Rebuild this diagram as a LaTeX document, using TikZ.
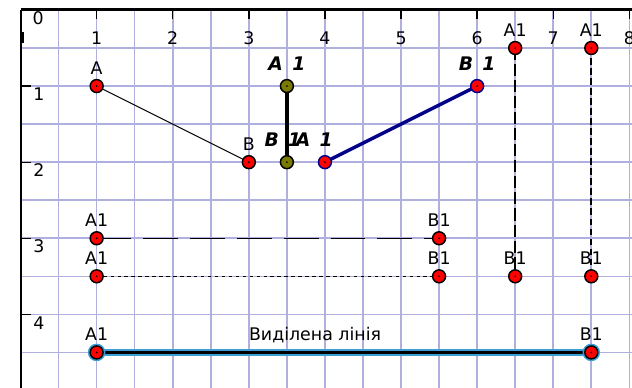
\documentclass[tikz,border=0pt]{standalone}
\usepackage{fontspec}
\setmainfont{DejaVu Sans}
\usetikzlibrary{backgrounds}
\definecolor{gridc}{HTML}{B0B0E0}
\definecolor{ptred}{HTML}{FF0000}
\definecolor{olv}{HTML}{7A7A00}
\definecolor{navy}{HTML}{00008B}
\definecolor{halo}{HTML}{3A9FD4}
\tikzset{
  pt/.style={circle, draw=black, fill=ptred, line width=1.1pt, minimum size=0.34cm, inner sep=0pt,
    path picture={\fill[black] (path picture bounding box.center) circle (0.7pt);}},
  olvpt/.style={pt, fill=olv},
  bluept/.style={pt, draw=navy},
  selpt/.style={pt, preaction={draw=halo, line width=3.4pt}},
  lab/.style={font=\fontsize{13}{15}\selectfont, inner sep=0pt, label distance=3.4pt},
  blab/.style={font=\fontsize{14}{16}\selectfont\bfseries\itshape, inner sep=0pt, label distance=6.4pt},
  num/.style={font=\fontsize{13}{15}\selectfont, inner sep=0pt},
  dashv/.style={line width=1.4pt, dash pattern=on 9pt off 3pt},
  dashw/.style={line width=1.4pt, dash pattern=on 5pt off 2.5pt},
  dashl/.style={line width=1.1pt, dash pattern=on 26pt off 9pt},
  dashs/.style={line width=1.1pt, dash pattern=on 2.6pt off 2.6pt},
  sel/.style={line width=2pt, preaction={draw=halo, line width=5.2pt}}
}

\begin{document}
\begin{tikzpicture}[x=2cm,y=-2cm]
  \clip (-0.27,-0.131) rectangle (8.035,4.967);
  % grid
  \begin{pgfonlayer}{background}
    \fill[white] (-0.27,-0.131) rectangle (8.035,4.967);
    \foreach \i in {1,...,16}
      \draw[gridc, line width=1.2pt] (\i*0.5,0) -- (\i*0.5,5);
    \foreach \j in {1,...,9}
      \draw[gridc, line width=1.2pt] (0,\j*0.5) -- (8.2,\j*0.5);
  \end{pgfonlayer}
  % axes
  \node[num] (t0) at (0.23,0.11) {0};
  \draw[line width=2.2pt] (0,0) -- (8.2,0);
  \draw[line width=1.5pt] (0,0) -- (0,5);
  \fill (0,0.29) rectangle (0.05,0.43);
  \foreach \x in {1,...,8}{
    \draw[line width=1pt] (\x,0) -- (\x,0.12);
    \node[num] (tx\x) at (\x,0.375) {\x};}
  \foreach \y in {1,...,4}{
    \draw[line width=1pt] (0,\y) -- (0.14,\y);
    \node[num] (ty\y) at (0.24,\y+0.11) {\y};}
  % points
  \node[pt, label={[lab]above:A}] (A) at (1,1) {};
  \node[pt, label={[lab]above:B}] (B) at (3,2) {};
  \node[olvpt, label={[blab]above:A\hspace{0.5em}1}] (A1k) at (3.5,1) {};
  \node[olvpt, label={[blab, xshift=-3pt]above:B\hspace{0.5em}1}] (B1k) at (3.5,2) {};
  \node[bluept, label={[blab, xshift=-8pt]above:A\hspace{0.5em}1}] (A1b) at (4,2) {};
  \node[bluept, label={[blab]above:B\hspace{0.5em}1}] (B1b) at (6,1) {};
  \node[pt, label={[lab]above:A1}] (A1c) at (6.5,0.5) {};
  \node[pt, label={[lab]above:B1}] (B1c) at (6.5,3.5) {};
  \node[pt, label={[lab]above:A1}] (A1d) at (7.5,0.5) {};
  \node[pt, label={[lab]above:B1}] (B1d) at (7.5,3.5) {};
  \node[pt, label={[lab]above:A1}] (A1e) at (1,3) {};
  \node[pt, label={[lab]above:B1}] (B1e) at (5.5,3) {};
  \node[pt, label={[lab]above:A1}] (A1f) at (1,3.5) {};
  \node[pt, label={[lab]above:B1}] (B1f) at (5.5,3.5) {};
  \node[selpt, label={[lab]above:A1}] (A1g) at (1,4.5) {};
  \node[selpt, label={[lab]above:B1}] (B1g) at (7.5,4.5) {};
  \node[lab] (cap) at (3.87,4.27) {Виділена лінія};
  % segments
  \begin{pgfonlayer}{background}
    \draw[line width=0.7pt] (A.center) -- (B.center);
    \draw[line width=3.5pt] (A1k.center) -- (B1k.center);
    \draw[navy, line width=2.6pt] (A1b.center) -- (B1b.center);
    \draw[dashv] (A1c.center) -- (B1c.center);
    \draw[dashw] (A1d.center) -- (B1d.center);
    \draw[dashl] (A1e.center) -- (B1e.center);
    \draw[dashs] (A1f.center) -- (B1f.center);
    \draw[sel] (A1g.center) -- (B1g.center);
  \end{pgfonlayer}
\end{tikzpicture}
\end{document}
